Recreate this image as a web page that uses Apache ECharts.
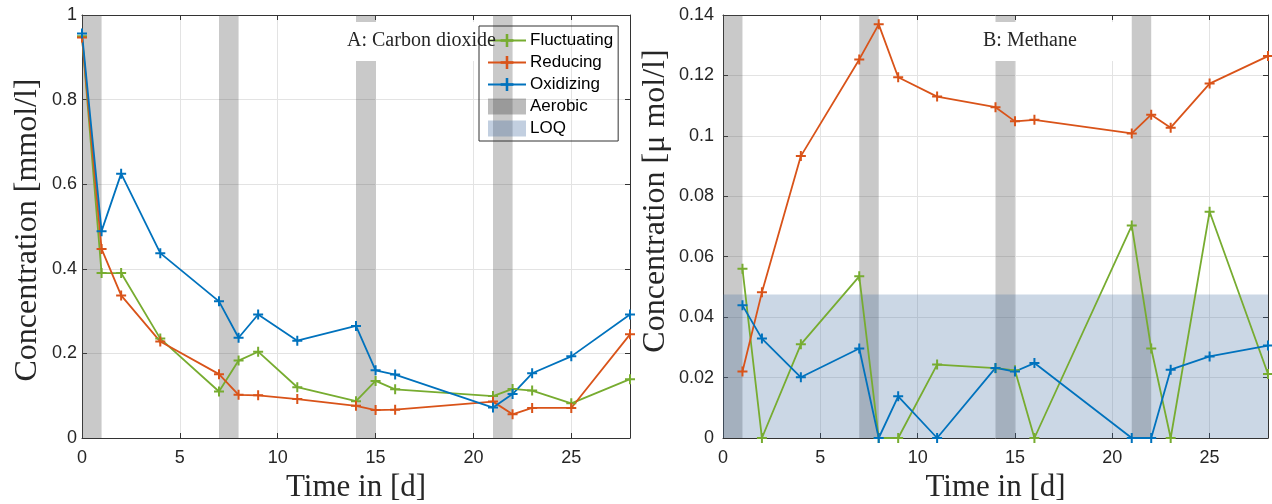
<!DOCTYPE html>
<html><head><meta charset="utf-8">
<script src="https://cdn.jsdelivr.net/npm/echarts@6/dist/echarts.min.js"></script>
<style>html,body{margin:0;padding:0;background:#fff}#c{width:1272px;height:504px}</style>
</head><body><div id="c"></div>
<script>
// ---- data ----
const daysCO2 = [0,1,2,4,7,8,9,11,14,15,16,21,22,23,25,28];
const co2Fluctuating = [0.95,0.39,0.39,0.235,0.11,0.183,0.204,0.12,0.087,0.135,0.115,0.099,0.116,0.112,0.082,0.139];
const co2Reducing    = [0.947,0.447,0.337,0.228,0.151,0.102,0.101,0.092,0.076,0.066,0.067,0.086,0.056,0.071,0.071,0.245];
const co2Oxidizing   = [0.956,0.489,0.625,0.437,0.323,0.237,0.292,0.23,0.265,0.16,0.15,0.072,0.104,0.153,0.193,0.292];
const daysCH4 = [1,2,4,7,8,9,11,14,15,16,21,22,23,25,28];
const ch4Fluctuating = [0.056,0,0.031,0.0535,0,0,0.0243,0.0231,0.0224,0,0.0703,0.0296,0,0.0749,0.0212];
const ch4Reducing    = [0.022,0.0482,0.0933,0.1253,0.1369,0.1194,0.113,0.1095,0.1048,0.1053,0.1008,0.107,0.1027,0.1173,0.1264];
const ch4Oxidizing   = [0.0439,0.0329,0.0201,0.0296,0,0.0138,0,0.0232,0.022,0.0248,0,0,0.0226,0.027,0.0306];
const aerobicPeriods = [[0,1],[7,8],[14,15],[21,22]];
const loqCH4 = 0.0475;
const seriesNames = ['Fluctuating','Reducing','Oxidizing'];
const legendNames = ['Fluctuating','Reducing','Oxidizing','Aerobic','LOQ'];
const panelTitles = ['A: Carbon dioxide','B: Methane'];
const yTitles = ['Concentration [mmol/l]','Concentration [\u03bc mol/l]'];
const xTitle = 'Time in [d]';

// ---- style ----
const colors = {Fluctuating:'#77AC30', Reducing:'#D95319', Oxidizing:'#0072BD'};
const aerobicColor = 'rgba(80,80,80,0.31)';
const loqColor = 'rgba(70,110,160,0.28)';
const plus = 'path://M4,0h2v4h4v2h-4v4h-2v-4h-4v-2h4z';
const axisCol = '#333';
const tickFont = {fontFamily:'Liberation Sans, Arial, sans-serif', fontSize:18, color:'#262626'};
const serif = 'Liberation Serif, Times New Roman, serif';

const zip = (xs, ys) => xs.map((x,i)=>[x, ys[i]]);

function xAx(grid, pos, main){
  return {type:'value', gridIndex:grid, position:pos, min:0, max:28, interval:5,
    axisLine:{show:true, onZero:false, lineStyle:{color:axisCol, width:1}},
    axisTick:{show:true, inside:true, length:5, lineStyle:{color:axisCol}},
    axisLabel:{show:main, showMaxLabel:false, margin:11, ...tickFont},
    splitLine:{show:main, lineStyle:{color:'#e3e3e3', width:1}},
    name: main ? xTitle : '', nameLocation:'middle', nameGap:34,
    nameTextStyle:{fontFamily:serif, fontSize:31, color:'#262626'}};
}
function yAx(grid, pos, main, max, interval, decimals, margin){
  return {type:'value', gridIndex:grid, position:pos, min:0, max:max, interval:interval,
    axisLine:{show:true, onZero:false, lineStyle:{color:axisCol, width:1}},
    axisTick:{show:true, inside:true, length:5, lineStyle:{color:axisCol}},
    axisLabel:{show:main, margin:margin, formatter:v=>String(+v.toFixed(decimals)), ...tickFont},
    splitLine:{show:main, lineStyle:{color:'#e3e3e3', width:1}}};
}

const series = [];
function addBands(name, grid, areas, color){
  series.push({name:name, type:'line', xAxisIndex:grid, yAxisIndex:grid, data:[], silent:true,
    markArea:{silent:true, itemStyle:{color:color}, data:areas}});
}
[0,1].forEach(g=>{
  addBands('Aerobic', g, aerobicPeriods.map(p=>[{xAxis:p[0]},{xAxis:p[1]}]), aerobicColor);
});
addBands('LOQ', 1, [[{yAxis:0},{yAxis:loqCH4}]], loqColor);

const co2 = {Fluctuating:co2Fluctuating, Reducing:co2Reducing, Oxidizing:co2Oxidizing};
const ch4 = {Fluctuating:ch4Fluctuating, Reducing:ch4Reducing, Oxidizing:ch4Oxidizing};
seriesNames.forEach(n=>{
  [[0, daysCO2, co2[n]],[1, daysCH4, ch4[n]]].forEach(([g, xs, ys])=>{
    series.push({name:n, type:'line', xAxisIndex:g, yAxisIndex:g, data:zip(xs, ys),
      symbol:plus, symbolSize:10, showSymbol:true, z:3,
      itemStyle:{color:colors[n]}, lineStyle:{color:colors[n], width:1.8}});
  });
});

const yTitleStyle = {fontFamily:serif, fontSize:32, fill:'#262626', textAlign:'center', textVerticalAlign:'middle'};

const option = {
  animation:false,
  backgroundColor:'#fff',
  grid:[{left:82, top:15, width:548, height:423, containLabel:false, outerBoundsMode:'none'},
        {left:723, top:15, width:545, height:423, containLabel:false, outerBoundsMode:'none'}],
  xAxis:[xAx(0,'bottom',true), xAx(1,'bottom',true), xAx(0,'top',false), xAx(1,'top',false)],
  yAxis:[yAx(0,'left',true,1,0.2,1,5), yAx(1,'left',true,0.14,0.02,2,9),
         yAx(0,'right',false,1,0.2,1,5), yAx(1,'right',false,0.14,0.02,2,9)],
  title:[
    {text:panelTitles[0], left:347, top:31, padding:0, z:8,
     textStyle:{fontFamily:serif, fontSize:20, fontWeight:'normal', color:'#262626'}},
    {text:panelTitles[1], left:983, top:31, padding:0, z:8,
     textStyle:{fontFamily:serif, fontSize:20, fontWeight:'normal', color:'#262626'}}
  ],
  graphic:[
    {type:'rect', left:340, top:22, shape:{width:138, height:39}, style:{fill:'#fff'}, z:7, silent:true},
    {type:'rect', left:977, top:22, shape:{width:143, height:39}, style:{fill:'#fff'}, z:7, silent:true},
    {type:'text', x:28, y:230, rotation:Math.PI/2, style:{text:yTitles[0], ...yTitleStyle}, silent:true},
    {type:'text', x:656, y:201, rotation:Math.PI/2, style:{text:yTitles[1], ...yTitleStyle}, silent:true}
  ],
  legend:{
    orient:'vertical', left:479, top:26, padding:[6,5,4,8], itemGap:5,
    itemWidth:38, itemHeight:16, borderColor:'#333', borderWidth:1, backgroundColor:'transparent',
    textStyle:{fontFamily:'Liberation Sans, Arial, sans-serif', fontSize:17, color:'#000', padding:[0,0,0,-1]},
    data:legendNames.map(n=>{
      if(n==='Aerobic') return {name:n, icon:'rect', itemStyle:{color:'rgba(80,80,80,0.38)'}};
      if(n==='LOQ') return {name:n, icon:'rect', itemStyle:{color:'rgba(70,110,160,0.33)'}};
      return {name:n};
    }),
    selectedMode:false
  },
  series:series
};
const chart = echarts.init(document.getElementById('c'), null, {renderer:'canvas'});
chart.setOption(option);
</script></body></html>
